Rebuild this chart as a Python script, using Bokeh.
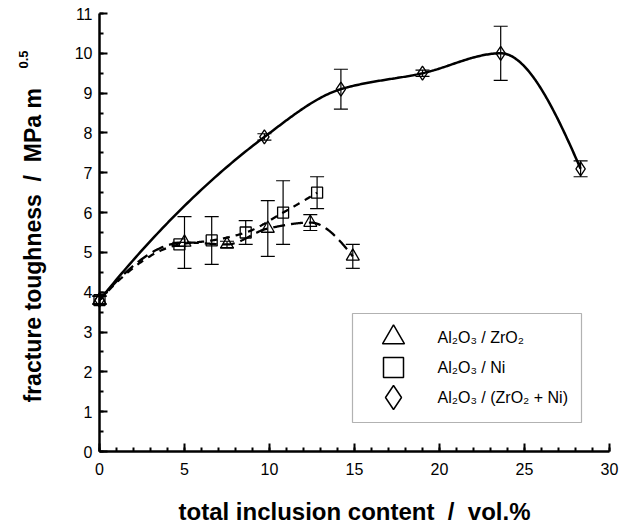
import numpy as np
from bokeh.plotting import figure
from bokeh.models import (Range1d, FixedTicker, Whisker, TeeHead, ColumnDataSource,
                          Label, BoxAnnotation)
from bokeh.embed import file_html
from bokeh.resources import INLINE

# ---------------- data ----------------
zr_x = [0.0, 5.0, 7.5, 9.9, 12.4, 14.9]
zr_y = [3.8, 5.25, 5.2, 5.6, 5.75, 4.9]
zr_err = [0.1, 0.65, 0.08, 0.7, 0.2, 0.3]

ni_x = [0.0, 4.7, 6.6, 8.6, 10.8, 12.8]
ni_y = [3.8, 5.2, 5.3, 5.5, 6.0, 6.5]
ni_err = [0.1, 0.05, 0.6, 0.3, 0.8, 0.4]

mix_x = [0.0, 9.7, 14.2, 19.0, 23.6, 28.3]
mix_y = [3.8, 7.9, 9.1, 9.5, 10.0, 7.1]
mix_err = [0.1, 0.08, 0.5, 0.08, 0.68, 0.2]

series_labels = ["Al\u2082O\u2083 / ZrO\u2082", "Al\u2082O\u2083 / Ni", "Al\u2082O\u2083 / (ZrO\u2082 + Ni)"]
x_ticks = [0, 5, 10, 15, 20, 25, 30]
y_ticks = [0, 1, 2, 3, 4, 5, 6, 7, 8, 9, 10, 11]
x_title = "total inclusion content \u00a0/\u00a0 vol.%"
y_title = "fracture toughness \u00a0/\u00a0 MPa m"
y_title_sup = "0.5"

FONT = "Liberation Sans"

# ---------------- layout (pixels) ----------------
W, H = 629, 526
X_LO, X_HI = 0, 30
Y_LO, Y_HI = 0, 11
PX_X_LO, PX_X_HI = 99, 609      # pixel columns of x = 0 and x = 30
PX_Y_LO, PX_Y_HI = 451, 13      # pixel rows of y = 0 and y = 11
SX = (PX_X_HI - PX_X_LO) / (X_HI - X_LO)
SY = (PX_Y_LO - PX_Y_HI) / (Y_HI - Y_LO)


def dx(px):
    return X_LO + (px - PX_X_LO) / SX


def dy(py):
    return Y_LO + (PX_Y_LO - py) / SY


def pchip(xs, ys, n=60):
    """Shape-preserving smooth curve through the given points (for the guide lines)."""
    x = np.asarray(xs, float)
    y = np.asarray(ys, float)
    h = np.diff(x)
    d = np.diff(y) / h
    m = np.zeros_like(x)
    for k in range(1, len(x) - 1):
        if d[k - 1] * d[k] > 0:
            w1 = 2 * h[k] + h[k - 1]
            w2 = h[k] + 2 * h[k - 1]
            m[k] = (w1 + w2) / (w1 / d[k - 1] + w2 / d[k])

    def end(h0, h1, d0, d1):
        s = ((2 * h0 + h1) * d0 - h0 * d1) / (h0 + h1)
        if np.sign(s) != np.sign(d0):
            s = 0.0
        elif np.sign(d0) != np.sign(d1) and abs(s) > abs(3 * d0):
            s = 3 * d0
        return s

    m[0] = end(h[0], h[1], d[0], d[1])
    m[-1] = end(h[-1], h[-2], d[-1], d[-2])
    xx, yy = [], []
    for k in range(len(h)):
        t = np.linspace(0, 1, n, endpoint=(k == len(h) - 1))
        h00 = 2 * t**3 - 3 * t**2 + 1
        h10 = t**3 - 2 * t**2 + t
        h01 = -2 * t**3 + 3 * t**2
        h11 = t**3 - t**2
        xx.append(x[k] + t * h[k])
        yy.append(h00 * y[k] + h10 * h[k] * m[k] + h01 * y[k + 1] + h11 * h[k] * m[k + 1])
    return np.concatenate(xx), np.concatenate(yy)


p = figure(width=W, height=H,
           x_range=Range1d(dx(0), dx(W)), y_range=Range1d(dy(H), dy(0)),
           output_backend="svg", toolbar_location=None,
           min_border=0, min_border_left=0, min_border_right=0,
           min_border_top=0, min_border_bottom=0)
p.outline_line_color = None
p.xgrid.visible = False
p.ygrid.visible = False
p.background_fill_color = "white"
p.border_fill_color = "white"

# axes: drawn at x = 0 / y = 0 inside the full-size frame
p.xaxis.fixed_location = Y_LO
p.yaxis.fixed_location = X_LO
p.xaxis.bounds = (X_LO, X_HI)
p.yaxis.bounds = (Y_LO, Y_HI)
p.xaxis.ticker = FixedTicker(ticks=x_ticks, minor_ticks=list(range(0, 31)))
p.yaxis.ticker = FixedTicker(ticks=y_ticks, minor_ticks=[i * 0.5 for i in range(23)])
for ax in (p.xaxis, p.yaxis):
    ax.axis_line_width = 2.5
    ax.axis_line_color = "black"
    ax.major_tick_line_width = 2
    ax.minor_tick_line_width = 2
    ax.major_tick_line_color = "black"
    ax.minor_tick_line_color = "black"
    ax.major_tick_in = 8
    ax.major_tick_out = 0
    ax.minor_tick_in = 4
    ax.minor_tick_out = 0
    ax.major_label_text_font = FONT
    ax.major_label_text_font_size = "16px"
    ax.major_label_text_color = "black"
p.xaxis.major_label_standoff = 11
p.yaxis.major_label_standoff = 7

# guide curves
cx, cy = pchip(mix_x, mix_y)
p.line(cx, cy, line_color="black", line_width=2.5)
cx, cy = pchip(ni_x, ni_y)
p.line(cx, cy, line_color="black", line_width=2.3, line_dash="7 6")
cx, cy = pchip(zr_x, zr_y)
p.line(cx, cy, line_color="black", line_width=2.3, line_dash="12 6")

# error bars and markers
for xs, ys, es, marker, size in ((zr_x, zr_y, zr_err, "triangle", 13),
                                 (ni_x, ni_y, ni_err, "square", 11),
                                 (mix_x, mix_y, mix_err, "diamond", 14)):
    src = ColumnDataSource(dict(x=xs, y=ys,
                                upper=[a + b for a, b in zip(ys, es)],
                                lower=[a - b for a, b in zip(ys, es)]))
    w = Whisker(source=src, base="x", upper="upper", lower="lower",
                line_color="black", line_width=1.2,
                upper_head=TeeHead(size=14, line_width=1.2, line_color="black"),
                lower_head=TeeHead(size=14, line_width=1.2, line_color="black"))
    p.add_layout(w)
    p.scatter("x", "y", source=src, marker=marker, size=size, fill_color=None,
              line_color="black", line_width=1.3)

# legend (drawn by hand to match the original layout)
p.add_layout(BoxAnnotation(left=dx(352), right=dx(581), bottom=dy(422), top=dy(313),
                           fill_alpha=0, line_color="black", line_width=1.2))
leg_rows = [dy(337), dy(367), dy(397)]
p.scatter([dx(393)] * 3, leg_rows, marker=["triangle", "square", "diamond"],
          size=[22, 20, 24], fill_color=None, line_color="black", line_width=1.5)
for lbl, yy in zip(series_labels, leg_rows):
    p.add_layout(Label(x=dx(437), y=yy, text=lbl, text_font=FONT, text_font_size="16px",
                       text_baseline="middle", text_align="left", text_color="black"))

# axis titles (screen units = pixels from the bottom-left of the frame / figure)
p.add_layout(Label(x=354, y=H - 519 + 8, x_units="screen", y_units="screen", text=x_title,
                   text_font=FONT, text_font_size="24px", text_font_style="bold",
                   text_align="center", text_baseline="alphabetic", text_color="black"))
p.add_layout(Label(x=40 - 8, y=H - 402, x_units="screen", y_units="screen", text=y_title,
                   angle=np.pi / 2, text_font=FONT, text_font_size="23px",
                   text_font_style="bold", text_align="left", text_baseline="alphabetic",
                   text_color="black"))
p.add_layout(Label(x=28 - 5, y=H - 68, x_units="screen", y_units="screen", text=y_title_sup,
                   angle=np.pi / 2, text_font=FONT, text_font_size="13px",
                   text_font_style="bold", text_align="left", text_baseline="alphabetic",
                   text_color="black"))

open("out.html", "w").write(file_html(p, INLINE))
